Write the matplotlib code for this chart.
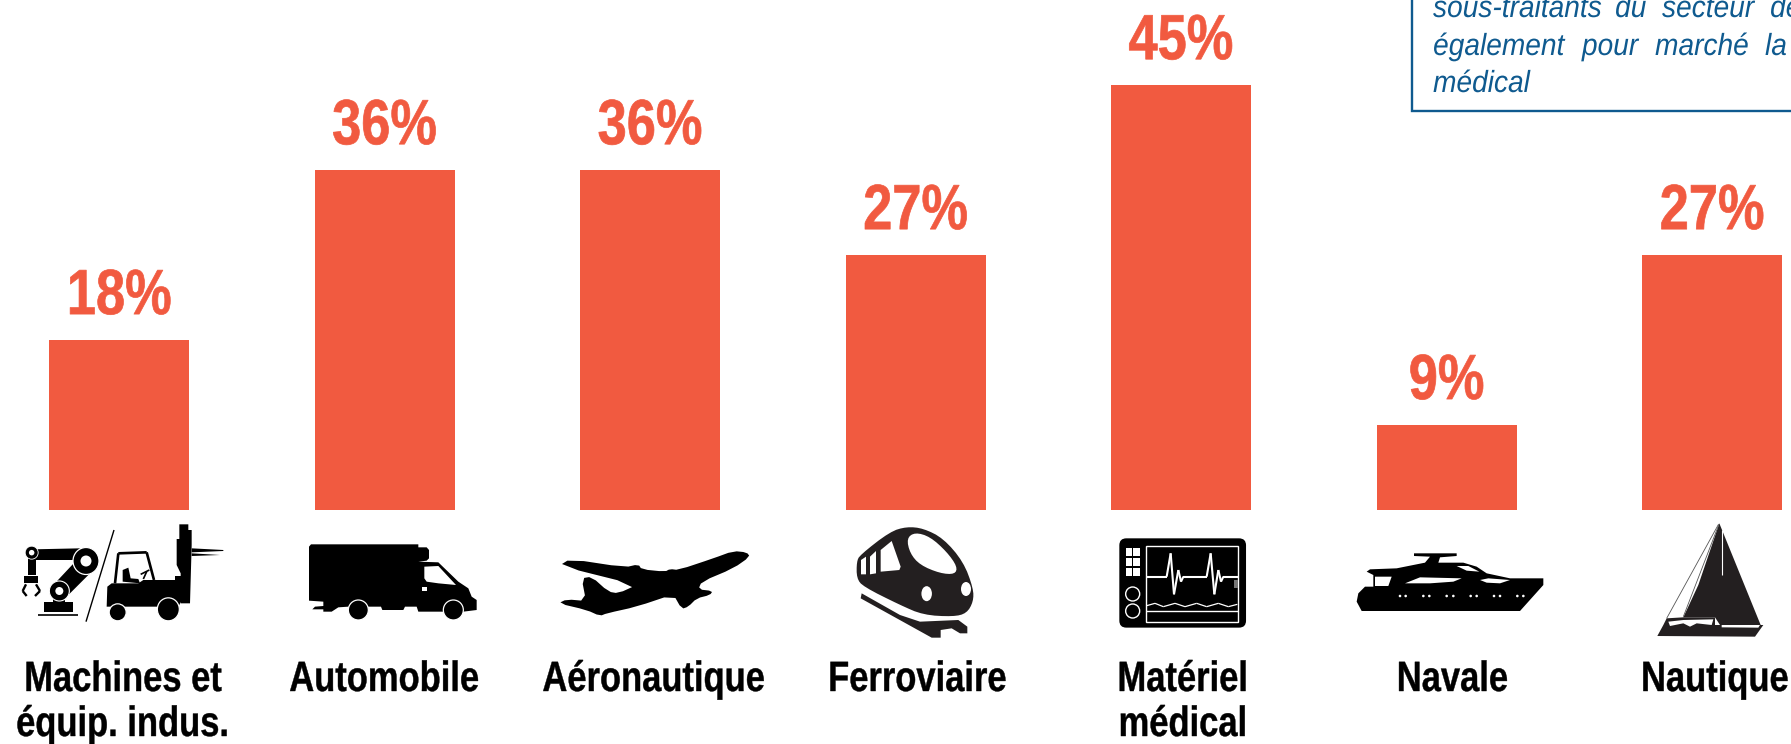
import matplotlib
matplotlib.use("Agg")
import matplotlib.pyplot as plt
from matplotlib.patches import Polygon, Ellipse, Rectangle, FancyBboxPatch
from matplotlib.patheffects import AbstractPathEffect
from matplotlib.transforms import Affine2D

W, H = 1791, 744
CATEGORIES = ["Machines et\néquip. indus.", "Automobile", "Aéronautique", "Ferroviaire",
              "Matériel\nmédical", "Navale", "Nautique"]
VALUES = [18, 36, 36, 27, 45, 9, 27]
LABEL_DX = [4, 0, 4, 2, 2, 6, 3]
NOTE_LINES = [
    [("sous-traitants", 1433), ("du", 1615), ("secteur", 1662), ("de", 1770)],
    [("également", 1433), ("pour", 1582), ("marché", 1655), ("la", 1765)],
    [("médical", 1433)],
]
NOTE_BASE = [17, 55, 92]

BAR = "#F15A40"
NOTE = "#0F5A8F"
INK = "#000000"
DARK = "#231F20"
FONT = "Liberation Sans"


class Squeeze(AbstractPathEffect):
    """Draw a text narrower than the font's own width, with an optional heavier stroke."""

    def __init__(self, sx, stroke=0.0, anchor="center"):
        super().__init__()
        self.sx, self.stroke, self.anchor = sx, stroke, anchor

    def draw_path(self, renderer, gc, tpath, affine, rgbFace=None):
        box = tpath.get_extents()
        cx = (box.x0 + box.x1) / 2 if self.anchor == "center" else box.x0
        t = Affine2D().translate(-cx, 0).scale(self.sx, 1).translate(cx, 0) + affine
        g = renderer.new_gc()
        g.copy_properties(gc)
        if self.stroke > 0:
            g.set_linewidth(self.stroke)
            g.set_foreground(rgbFace)
            g.set_joinstyle("round")
        else:
            g.set_linewidth(0)
        renderer.draw_path(g, tpath, t, rgbFace)
        g.restore()


fig = plt.figure(figsize=(W / 100, H / 100), dpi=100, facecolor="white")
ax = fig.add_axes([0, 0, 1, 1])
PX_X = 265.5
PX_V = 9.44
X0, Y0 = 119, 510
ax.set_xlim((0 - X0) / PX_X, (W - X0) / PX_X)
ax.set_ylim((Y0 - H) / PX_V, Y0 / PX_V)
ax.axis("off")

xs = list(range(len(VALUES)))
ax.bar(xs, VALUES, width=140 / PX_X, color=BAR, linewidth=0)
for x, v in zip(xs, VALUES):
    ax.annotate(f"{v}%", xy=(x, v), xytext=(0, 26), textcoords="offset pixels",
                ha="center", va="baseline", fontsize=46, fontweight="bold",
                family=FONT, color=BAR, path_effects=[Squeeze(0.82, 0.5)])
for x, label, dx in zip(xs, CATEGORIES, LABEL_DX):
    for k, line in enumerate(label.split("\n")):
        ax.annotate(line, xy=(x, 0), xytext=(dx, -181 - 45 * k), textcoords="offset pixels",
                    ha="center", va="baseline", fontsize=30.5, fontweight="bold",
                    family=FONT, color=INK, annotation_clip=False,
                    path_effects=[Squeeze(0.815, 0.3)])

# overlay in pixel coordinates: note box and pictograms
ov = fig.add_axes([0, 0, 1, 1])
ov.set_xlim(0, W)
ov.set_ylim(H, 0)
ov.axis("off")
ov.patch.set_alpha(0)

ov.plot([1412, 1412, W], [0, 111, 111], color=NOTE, lw=1.7, solid_joinstyle="miter")
for words, base in zip(NOTE_LINES, NOTE_BASE):
    for word, x in words:
        ov.text(x, base, word, fontsize=22, style="italic", family=FONT,
                color=NOTE, ha="left", va="baseline", clip_on=True,
                path_effects=[Squeeze(0.92, 0, "left")])


def C(x0, y0):
    return lambda x, y: (x0 + x / 3, y0 + y / 3)


def chaikin(pts, n=2):
    for _ in range(n):
        out = []
        for i, a in enumerate(pts):
            b = pts[(i + 1) % len(pts)]
            out.append((0.75 * a[0] + 0.25 * b[0], 0.75 * a[1] + 0.25 * b[1]))
            out.append((0.25 * a[0] + 0.75 * b[0], 0.25 * a[1] + 0.75 * b[1]))
        pts = out
    return pts


def poly(m, pts, color=INK, z=3, smooth=0):
    pts = chaikin([m(*p) for p in pts], smooth) if smooth else [m(*p) for p in pts]
    ov.add_patch(Polygon(pts, closed=True, fc=color, ec="none", zorder=z))


def ell(m, c, w, h, color=INK, z=3, ec="none", lw=0):
    ov.add_patch(Ellipse(m(*c), w, h, fc=color, ec=ec, lw=lw, zorder=z))


def seg(m, a, b, color=INK, lw=1, z=3):
    pa, pb = m(*a), m(*b)
    ov.plot([pa[0], pb[0]], [pa[1], pb[1]], color=color, lw=lw, zorder=z, solid_capstyle="butt")


def chain(m, pts, color=INK, lw=1, z=3):
    for a, b in zip(pts[:-1], pts[1:]):
        seg(m, a, b, color, lw, z)


# robot arm and forklift
m = C(10, 515)
poly(m, [(103, 262), (130, 262), (130, 250), (165, 250), (165, 262), (188, 262), (188, 292), (103, 292)])
seg(m, (85, 300), (203, 300), lw=1.2)
poly(m, [(70, 103), (210, 100), (195, 135), (70, 135)])
poly(m, [(130, 210), (205, 130), (250, 165), (170, 245)])
poly(m, [(55, 125), (78, 125), (78, 180), (55, 180)])
poly(m, [(42, 183), (85, 183), (85, 205), (42, 205)])
chain(m, [(48, 208), (38, 228), (50, 243)], lw=1.7)
chain(m, [(78, 208), (90, 228), (75, 243)], lw=1.7)
ell(m, (65, 113), 13, 13, ec="white", lw=0.6, z=4)
ell(m, (65, 113), 5.5, 5.5, "white", 5)
ell(m, (228, 138), 26, 27, ec="white", lw=0.9, z=4)
ell(m, (228, 138), 11, 11, "white", 5)
ell(m, (148, 228), 20, 20, ec="white", lw=0.8, z=4)
ell(m, (148, 228), 8, 8, "white", 5)
seg(m, (312, 45), (228, 320), lw=1)
poly(m, [(290, 275), (292, 215), (305, 205), (385, 205), (400, 195), (495, 195), (495, 183), (522, 183),
         (525, 262), (512, 262), (505, 275)])
chain(m, [(315, 205), (325, 115), (410, 112), (432, 195)], lw=1.9)
poly(m, [(338, 200), (338, 165), (355, 158), (362, 190), (385, 192), (390, 205)])
chain(m, [(400, 192), (410, 170)], lw=1.2)
chain(m, [(392, 178), (418, 165)], lw=1.2)
poly(m, [(500, 72), (508, 72), (508, 28), (535, 28), (535, 45), (545, 45), (545, 90), (540, 265), (512, 265),
         (512, 175), (500, 150)])
poly(m, [(545, 100), (640, 105), (640, 108), (545, 112)])
poly(m, [(545, 115), (630, 120), (545, 123)])
ell(m, (323, 292), 17, 17, ec="white", lw=0.9, z=5)
ell(m, (475, 283), 22, 23, ec="white", lw=0.9, z=5)

# truck
m = C(295, 530)
poly(m, [(42, 50), (48, 43), (370, 43), (370, 52), (395, 52), (402, 60), (402, 85), (395, 92), (370, 95),
         (430, 97), (490, 155), (520, 175), (530, 200), (545, 210), (545, 240), (505, 245), (445, 245),
         (370, 245), (365, 230), (330, 230), (325, 240), (262, 240), (258, 230), (160, 230), (130, 232),
         (110, 245), (85, 245), (85, 238), (52, 238), (60, 230), (85, 228), (85, 215), (42, 212)])
poly(m, [(388, 110), (430, 108), (483, 165), (430, 160), (395, 155), (388, 145)], "white", 4)
poly(m, [(380, 172), (396, 172), (396, 183), (380, 183)], "white", 4)
ell(m, (190, 240), 20, 20, ec="white", lw=0.9, z=5)
ell(m, (475, 240), 20, 20, ec="white", lw=0.9, z=5)

# aeroplane
m = C(550, 535)
poly(m, [(600, 65), (590, 52), (550, 48), (490, 70), (385, 105), (360, 102), (345, 110), (275, 103), (265, 88),
         (225, 97), (60, 72), (28, 92), (260, 150), (205, 175), (175, 170), (125, 125), (95, 130), (108, 198),
         (50, 193), (25, 205), (110, 225), (150, 243), (170, 235), (260, 215), (370, 178), (395, 222),
         (415, 215), (440, 190), (480, 180), (488, 168), (445, 163), (455, 140), (550, 100)], smooth=1)

# train
m = C(840, 515)
poly(m, [(50, 140), (60, 120), (150, 50), (200, 35), (250, 40), (310, 70), (370, 140), (400, 220), (400, 260),
         (380, 295), (340, 305), (250, 300), (180, 270), (70, 215), (50, 190)], DARK, smooth=2)
poly(m, [(200, 70), (225, 52), (270, 65), (320, 110), (352, 155), (345, 178), (300, 175), (240, 150), (210, 115)],
     "white", 4, smooth=2)
poly(m, [(122, 105), (155, 78), (182, 155), (178, 165), (122, 170)], "white", 4)
poly(m, [(90, 125), (108, 108), (108, 175), (90, 178)], "white", 4)
poly(m, [(63, 135), (78, 125), (78, 178), (63, 178)], "white", 4)
ell(m, (260, 236), 10.5, 15, "white", 4)
ell(m, (378, 222), 10, 14, "white", 4)
poly(m, [(65, 235), (180, 300), (240, 320), (355, 315), (382, 335), (382, 355), (360, 355), (335, 340), (302, 345),
         (302, 368), (275, 368), (62, 250)], DARK)

# patient monitor
m = C(1100, 525)
x0, y0 = m(58, 40)
ov.add_patch(FancyBboxPatch((x0, y0), 126.7, 89.3, boxstyle="round,pad=0,rounding_size=7",
                            fc=INK, ec="none", zorder=3))
sx, sy = m(137, 63)
ov.add_patch(Rectangle((sx, sy), 92.7, 75.7, fc="none", ec="white", lw=1.0, zorder=4))
seg(m, (137, 258), (415, 258), "white", 1, 4)
for yy in (70, 100, 130):
    for xx in (77, 100):
        px, py = m(xx, yy)
        ov.add_patch(Rectangle((px, py), 6.5, 7.3, fc="white", ec="none", zorder=4))
chain(m, [(137, 155), (200, 155), (212, 85), (222, 208), (235, 135), (243, 170), (250, 155), (320, 155), (332, 85),
          (343, 208), (355, 135), (363, 170), (370, 155), (415, 155)], "white", 1.5, 4)
chain(m, [(140, 242), (165, 235), (190, 245), (225, 235), (255, 245), (290, 235), (320, 245), (355, 235), (385, 245),
          (412, 238)], "white", 0.9, 4)
poly(m, [(403, 165), (415, 165), (415, 190), (403, 190)], "#777777", 4)
ell(m, (98, 207), 14, 14, "none", 4, "white", 1)
ell(m, (98, 258), 14, 14, "none", 4, "white", 1)

# yacht
m = C(1340, 530)
poly(m, [(50, 215), (55, 190), (75, 170), (100, 170), (100, 135), (80, 125), (90, 118), (170, 115), (255, 98),
         (270, 80), (222, 78), (222, 70), (350, 70), (350, 78), (300, 82), (295, 98), (370, 98), (410, 110),
         (440, 130), (510, 145), (610, 145), (610, 165), (540, 243), (65, 243)])
poly(m, [(195, 160), (240, 142), (365, 145), (340, 155), (270, 160)], "white", 4)
poly(m, [(350, 108), (385, 108), (418, 125), (380, 122)], "white", 4)
poly(m, [(420, 150), (445, 145), (510, 150), (480, 160), (440, 158)], "white", 4)
poly(m, [(105, 140), (155, 140), (145, 168), (105, 168)], "white", 4)
for xx in (180, 197, 250, 268, 320, 340, 392, 410, 462, 480, 532, 550):
    ell(m, (xx, 198), 2.6, 2.6, "white", 4)

# sailing boat
m = C(1620, 510)
poly(m, [(298, 40), (422, 345), (300, 345), (285, 322), (190, 322), (235, 225)], DARK)
seg(m, (296, 42), (140, 325), "#555555", 0.6)
seg(m, (296, 45), (190, 320), "#555555", 0.6)
seg(m, (305, 60), (305, 195), "white", 0.8, 4)
poly(m, [(140, 325), (190, 322), (285, 322), (285, 345), (430, 345), (405, 380), (112, 378), (130, 345)], DARK)
poly(m, [(145, 335), (190, 330), (280, 328), (275, 345), (230, 340), (210, 350), (190, 340), (150, 348)], "white", 4)
poly(m, [(305, 345), (420, 345), (415, 353), (305, 352)], "white", 4)

fig.savefig("out.png", dpi=100, facecolor="white")
